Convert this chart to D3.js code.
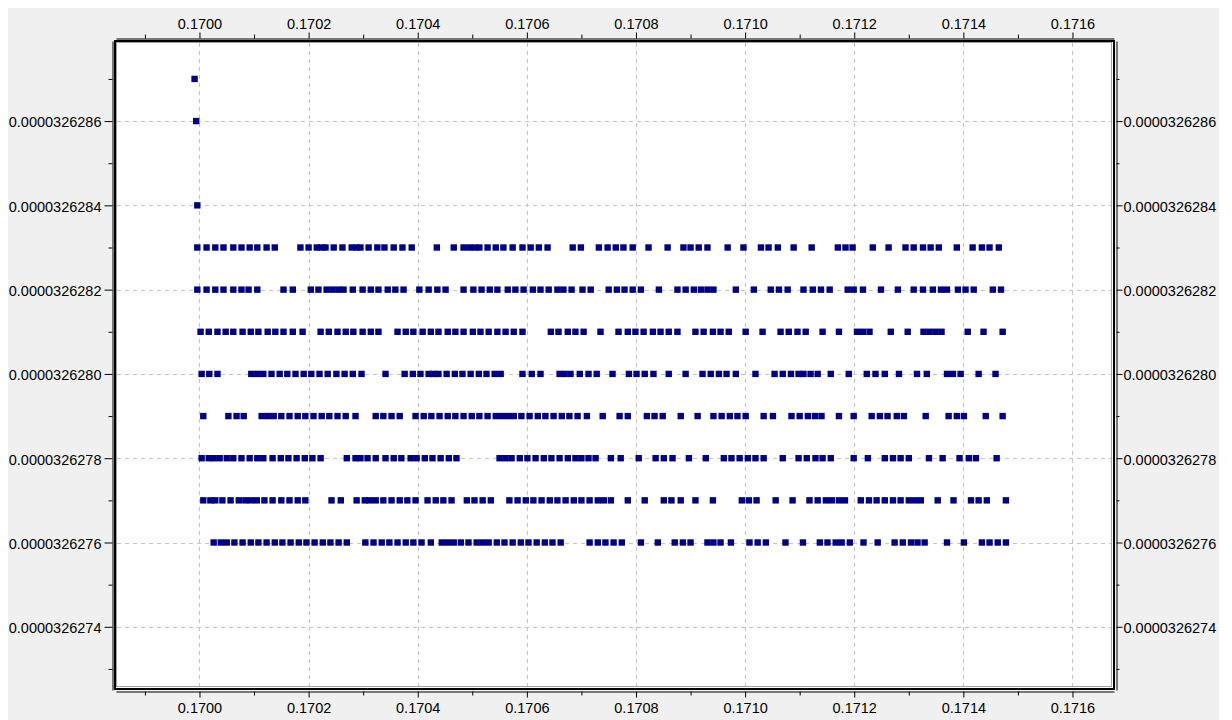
<!DOCTYPE html>
<html>
<head>
<meta charset="utf-8">
<script src="https://cdn.jsdelivr.net/npm/d3@7"></script>
<style>
  body { margin: 0; background: #fff; }
  svg { display: block; }
  .tick text { font-family: "Liberation Sans", Arial, sans-serif; font-size: 14.5px; fill: #000; }
</style>
</head>
<body>
<svg id="chart" width="1232" height="720"></svg>
<script>
// tick values
const xTicks = [0.1700, 0.1702, 0.1704, 0.1706, 0.1708, 0.1710, 0.1712, 0.1714, 0.1716];
const xMinorTicks = [0.1699, 0.1701, 0.1703, 0.1705, 0.1707, 0.1709, 0.1711, 0.1713, 0.1715];
const yTicks = [0.0000326274, 0.0000326276, 0.0000326278, 0.0000326280, 0.0000326282, 0.0000326284, 0.0000326286];
const yMinorTicks = [0.0000326273, 0.0000326275, 0.0000326277, 0.0000326279, 0.0000326281, 0.0000326283, 0.0000326285, 0.0000326287];

// three isolated points at the top left
const spikeX = [0.169991, 0.169994, 0.169996];
const spikeY = [0.0000326287, 0.0000326286, 0.0000326284];

// horizontal bands of points
const levels = [0.0000326283, 0.0000326282, 0.0000326281, 0.0000326280,
                0.0000326279, 0.0000326278, 0.0000326277, 0.0000326276];

const x283 = [0.169996, 0.170013, 0.170029, 0.170044, 0.170062, 0.170077, 0.170092, 0.170106, 0.170123, 0.170138,
  0.170185, 0.170200, 0.170215, 0.170224, 0.170231, 0.170246, 0.170262, 0.170279, 0.170288, 0.170295, 0.170310,
  0.170326, 0.170339, 0.170356, 0.170372, 0.170389, 0.170435, 0.170466, 0.170484, 0.170495, 0.170504, 0.170513,
  0.170528, 0.170543, 0.170557, 0.170574, 0.170592, 0.170607, 0.170622, 0.170638, 0.170684, 0.170699, 0.170732,
  0.170748, 0.170763, 0.170777, 0.170794, 0.170823, 0.170858, 0.170887, 0.170900, 0.170915, 0.170931, 0.170968,
  0.170997, 0.171029, 0.171043, 0.171060, 0.171089, 0.171122, 0.171170, 0.171184, 0.171197, 0.171234, 0.171263,
  0.171294, 0.171309, 0.171326, 0.171340, 0.171355, 0.171388, 0.171417, 0.171434, 0.171448, 0.171465];

const x282 = [0.169996, 0.170013, 0.170029, 0.170044, 0.170062, 0.170077, 0.170090, 0.170106, 0.170154, 0.170171,
  0.170204, 0.170218, 0.170233, 0.170244, 0.170255, 0.170264, 0.170281, 0.170299, 0.170314, 0.170328, 0.170345,
  0.170359, 0.170374, 0.170403, 0.170420, 0.170436, 0.170451, 0.170484, 0.170502, 0.170517, 0.170532, 0.170546,
  0.170565, 0.170579, 0.170594, 0.170611, 0.170625, 0.170640, 0.170656, 0.170667, 0.170682, 0.170702, 0.170717,
  0.170750, 0.170765, 0.170779, 0.170794, 0.170809, 0.170842, 0.170876, 0.170891, 0.170906, 0.170919, 0.170931,
  0.170942, 0.170983, 0.171016, 0.171047, 0.171062, 0.171078, 0.171107, 0.171124, 0.171139, 0.171155, 0.171188,
  0.171199, 0.171216, 0.171249, 0.171280, 0.171309, 0.171326, 0.171344, 0.171359, 0.171370, 0.171390, 0.171404,
  0.171419, 0.171454, 0.171469];

const x281 = [0.170002, 0.170017, 0.170033, 0.170048, 0.170062, 0.170079, 0.170094, 0.170108, 0.170125, 0.170139,
  0.170154, 0.170171, 0.170189, 0.170222, 0.170237, 0.170253, 0.170268, 0.170282, 0.170299, 0.170314, 0.170328,
  0.170363, 0.170378, 0.170392, 0.170409, 0.170424, 0.170438, 0.170455, 0.170469, 0.170484, 0.170501, 0.170515,
  0.170530, 0.170546, 0.170561, 0.170576, 0.170592, 0.170644, 0.170658, 0.170675, 0.170689, 0.170704, 0.170735,
  0.170768, 0.170785, 0.170799, 0.170814, 0.170831, 0.170845, 0.170860, 0.170876, 0.170909, 0.170924, 0.170941,
  0.170955, 0.170970, 0.171001, 0.171032, 0.171065, 0.171080, 0.171096, 0.171111, 0.171142, 0.171172, 0.171205,
  0.171216, 0.171228, 0.171267, 0.171298, 0.171327, 0.171338, 0.171349, 0.171360, 0.171408, 0.171437, 0.171472];

const x280 = [0.170004, 0.170018, 0.170033, 0.170095, 0.170106, 0.170117, 0.170132, 0.170147, 0.170161, 0.170176,
  0.170191, 0.170205, 0.170220, 0.170235, 0.170251, 0.170266, 0.170281, 0.170297, 0.170341, 0.170376, 0.170391,
  0.170405, 0.170420, 0.170429, 0.170438, 0.170453, 0.170468, 0.170482, 0.170497, 0.170512, 0.170526, 0.170541,
  0.170552, 0.170592, 0.170609, 0.170625, 0.170660, 0.170669, 0.170680, 0.170697, 0.170713, 0.170728, 0.170757,
  0.170787, 0.170801, 0.170816, 0.170832, 0.170860, 0.170891, 0.170922, 0.170937, 0.170952, 0.170966, 0.170983,
  0.171019, 0.171054, 0.171069, 0.171084, 0.171098, 0.171107, 0.171120, 0.171133, 0.171157, 0.171190, 0.171223,
  0.171239, 0.171256, 0.171282, 0.171315, 0.171333, 0.171370, 0.171381, 0.171395, 0.171428, 0.171459];

const x279 = [0.170007, 0.170053, 0.170068, 0.170081, 0.170114, 0.170125, 0.170136, 0.170150, 0.170165, 0.170180,
  0.170194, 0.170209, 0.170224, 0.170238, 0.170253, 0.170268, 0.170286, 0.170323, 0.170337, 0.170352, 0.170367,
  0.170396, 0.170411, 0.170425, 0.170440, 0.170455, 0.170469, 0.170484, 0.170499, 0.170513, 0.170528, 0.170543,
  0.170554, 0.170565, 0.170576, 0.170590, 0.170605, 0.170620, 0.170634, 0.170649, 0.170664, 0.170678, 0.170693,
  0.170710, 0.170739, 0.170770, 0.170785, 0.170820, 0.170834, 0.170849, 0.170882, 0.170913, 0.170942, 0.170957,
  0.170972, 0.170986, 0.171001, 0.171034, 0.171051, 0.171085, 0.171100, 0.171115, 0.171128, 0.171140, 0.171172,
  0.171199, 0.171232, 0.171247, 0.171261, 0.171278, 0.171291, 0.171331, 0.171373, 0.171388, 0.171401, 0.171441,
  0.171472];

const x278 = [0.170004, 0.170017, 0.170026, 0.170037, 0.170050, 0.170062, 0.170077, 0.170092, 0.170106, 0.170117,
  0.170134, 0.170149, 0.170163, 0.170178, 0.170193, 0.170207, 0.170222, 0.170270, 0.170286, 0.170295, 0.170308,
  0.170323, 0.170341, 0.170356, 0.170370, 0.170387, 0.170398, 0.170413, 0.170427, 0.170442, 0.170457, 0.170471,
  0.170550, 0.170561, 0.170572, 0.170587, 0.170601, 0.170616, 0.170631, 0.170645, 0.170660, 0.170675, 0.170689,
  0.170700, 0.170713, 0.170726, 0.170754, 0.170772, 0.170805, 0.170836, 0.170851, 0.170867, 0.170897, 0.170928,
  0.170961, 0.170975, 0.170990, 0.171005, 0.171019, 0.171034, 0.171069, 0.171098, 0.171113, 0.171129, 0.171142,
  0.171157, 0.171199, 0.171225, 0.171256, 0.171271, 0.171285, 0.171300, 0.171337, 0.171362, 0.171393, 0.171410,
  0.171423, 0.171461];

const x277 = [0.170007, 0.170020, 0.170029, 0.170042, 0.170057, 0.170072, 0.170084, 0.170094, 0.170105, 0.170119,
  0.170134, 0.170150, 0.170165, 0.170180, 0.170194, 0.170242, 0.170259, 0.170288, 0.170303, 0.170312, 0.170323,
  0.170337, 0.170352, 0.170367, 0.170381, 0.170396, 0.170418, 0.170433, 0.170447, 0.170462, 0.170490, 0.170504,
  0.170519, 0.170534, 0.170568, 0.170583, 0.170598, 0.170612, 0.170627, 0.170642, 0.170656, 0.170671, 0.170686,
  0.170700, 0.170715, 0.170730, 0.170741, 0.170754, 0.170785, 0.170816, 0.170851, 0.170865, 0.170882, 0.170909,
  0.170941, 0.170994, 0.171007, 0.171021, 0.171056, 0.171087, 0.171118, 0.171133, 0.171148, 0.171159, 0.171172,
  0.171183, 0.171212, 0.171227, 0.171241, 0.171256, 0.171271, 0.171285, 0.171300, 0.171311, 0.171322, 0.171353,
  0.171382, 0.171414, 0.171428, 0.171443, 0.171478];

const x276 = [0.170026, 0.170039, 0.170050, 0.170064, 0.170079, 0.170094, 0.170108, 0.170123, 0.170138, 0.170152,
  0.170167, 0.170182, 0.170196, 0.170211, 0.170226, 0.170240, 0.170255, 0.170270, 0.170304, 0.170319, 0.170334,
  0.170348, 0.170363, 0.170378, 0.170392, 0.170407, 0.170424, 0.170444, 0.170455, 0.170466, 0.170479, 0.170493,
  0.170508, 0.170519, 0.170530, 0.170545, 0.170559, 0.170574, 0.170589, 0.170603, 0.170618, 0.170633, 0.170647,
  0.170662, 0.170715, 0.170730, 0.170744, 0.170759, 0.170774, 0.170809, 0.170840, 0.170871, 0.170886, 0.170900,
  0.170931, 0.170942, 0.170955, 0.170974, 0.171008, 0.171023, 0.171038, 0.171074, 0.171106, 0.171137, 0.171151,
  0.171166, 0.171177, 0.171192, 0.171217, 0.171243, 0.171274, 0.171289, 0.171304, 0.171316, 0.171329, 0.171370,
  0.171401, 0.171434, 0.171448, 0.171463, 0.171478];

const rows = [x283, x282, x281, x280, x279, x278, x277, x276];

// build point list
let points = spikeX.map((x, i) => ({x: x, y: spikeY[i]}));
rows.forEach((xs, i) => {
  xs.forEach(x => points.push({x: x, y: levels[i]}));
});

const svg = d3.select('#chart');

// frame geometry
const frameL = 115, frameT = 41, frameR = 1114, frameB = 689;

const xScale = d3.scaleLinear()
    .domain([0.169847, 0.1716761])
    .range([116, 1114]);

const yScale = d3.scaleLinear()
    .domain([0.00003262725, 0.00003262879])
    .range([690, 41]);

// window background
svg.append('rect')
    .attr('x', 8).attr('y', 8)
    .attr('width', 1211).attr('height', 712)
    .attr('fill', '#f0f0f0');

// plot area
svg.append('rect')
    .attr('x', frameL).attr('y', frameT)
    .attr('width', frameR - frameL).attr('height', frameB - frameT)
    .attr('fill', '#fff');

// grid
const grid = svg.append('g')
    .attr('stroke', '#c4c4c4')
    .attr('stroke-width', 1)
    .attr('stroke-dasharray', '4,4');

grid.selectAll('.vgrid')
    .data(xTicks)
    .join('line')
    .attr('x1', d => Math.round(xScale(d)) + 0.5)
    .attr('x2', d => Math.round(xScale(d)) + 0.5)
    .attr('y1', frameT + 2).attr('y2', frameB - 1);

grid.selectAll('.hgrid')
    .data(yTicks)
    .join('line')
    .attr('y1', d => Math.round(yScale(d)) + 0.5)
    .attr('y2', d => Math.round(yScale(d)) + 0.5)
    .attr('x1', frameL + 2).attr('x2', frameR - 2);

// points
svg.append('g')
    .attr('fill', '#000080')
    .selectAll('rect')
    .data(points)
    .join('rect')
    .attr('x', d => xScale(d.x) - 3.2)
    .attr('y', d => yScale(d.y) - 3.2)
    .attr('width', 6.4)
    .attr('height', 6.4);

// frame: black outer, grey inner
svg.append('rect')
    .attr('x', frameL).attr('y', frameT)
    .attr('width', frameR - frameL).attr('height', frameB - frameT)
    .attr('fill', 'none')
    .attr('stroke', '#000')
    .attr('stroke-width', 2);

svg.append('rect')
    .attr('x', frameL + 1.5).attr('y', frameT + 1.5)
    .attr('width', frameR - frameL - 4).attr('height', frameB - frameT - 4)
    .attr('fill', 'none')
    .attr('stroke', '#a0a0a0')
    .attr('stroke-width', 1);

// axes
const fmtX = d3.format('.4f');
const fmtY = d3.format('.10f');

function styleAxis(g) {
  g.select('.domain').attr('stroke', '#000');
  g.selectAll('.tick line').attr('stroke', '#000');
}

svg.append('g')
    .attr('transform', 'translate(0,38.5)')
    .call(d3.axisTop(xScale).tickValues(xTicks).tickFormat(fmtX).tickSize(6).tickSizeOuter(0).tickPadding(4))
    .call(styleAxis);

svg.append('g')
    .attr('transform', 'translate(0,38.5)')
    .call(d3.axisTop(xScale).tickValues(xMinorTicks).tickFormat('').tickSize(4).tickSizeOuter(0))
    .call(g => g.select('.domain').remove())
    .call(styleAxis);

svg.append('g')
    .attr('transform', 'translate(0,691.5)')
    .call(d3.axisBottom(xScale).tickValues(xTicks).tickFormat(fmtX).tickSize(6).tickSizeOuter(0).tickPadding(5))
    .call(styleAxis);

svg.append('g')
    .attr('transform', 'translate(0,691.5)')
    .call(d3.axisBottom(xScale).tickValues(xMinorTicks).tickFormat('').tickSize(4).tickSizeOuter(0))
    .call(g => g.select('.domain').remove())
    .call(styleAxis);

svg.append('g')
    .attr('transform', 'translate(112.5,0)')
    .call(d3.axisLeft(yScale).tickValues(yTicks).tickFormat(fmtY).tickSize(8).tickSizeOuter(0).tickPadding(3))
    .call(styleAxis)
    .call(g => g.selectAll('.tick text').attr('dy', '0.4em'));

svg.append('g')
    .attr('transform', 'translate(112.5,0)')
    .call(d3.axisLeft(yScale).tickValues(yMinorTicks).tickFormat('').tickSize(4).tickSizeOuter(0))
    .call(g => g.select('.domain').remove())
    .call(styleAxis);

svg.append('g')
    .attr('transform', 'translate(1116.5,0)')
    .call(d3.axisRight(yScale).tickValues(yTicks).tickFormat(fmtY).tickSize(6).tickSizeOuter(0).tickPadding(1))
    .call(styleAxis)
    .call(g => g.selectAll('.tick text').attr('dy', '0.4em'));

svg.append('g')
    .attr('transform', 'translate(1116.5,0)')
    .call(d3.axisRight(yScale).tickValues(yMinorTicks).tickFormat('').tickSize(3).tickSizeOuter(0))
    .call(g => g.select('.domain').remove())
    .call(styleAxis);
</script>
</body>
</html>
